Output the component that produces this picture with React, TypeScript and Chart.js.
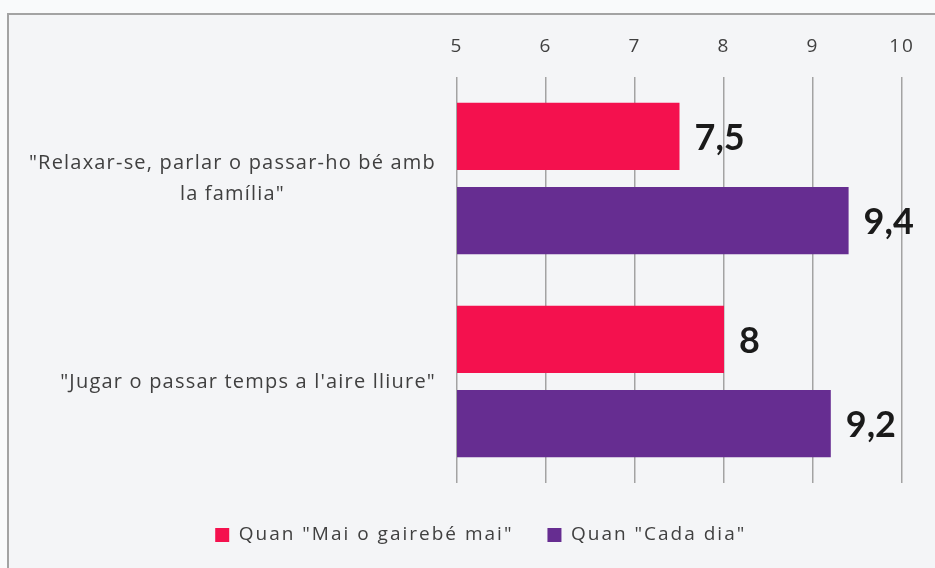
import React, { useEffect, useRef } from 'react';
import { Chart, registerables } from 'chart.js';

Chart.register(...registerables);

// ---- data ----
const categories: string[][] = [
  ['"Relaxar-se, parlar o passar-ho bé amb', 'la família"'],
  ['"Jugar o passar temps a l\'aire lliure"'],
];
const seriesNames: string[] = ['Quan "Mai o gairebé mai"', 'Quan "Cada dia"'];
const neverValues: number[] = [7.5, 8];
const dailyValues: number[] = [9.4, 9.2];
const xTickValues: number[] = [5, 6, 7, 8, 9, 10];

const seriesColors = ['#F4114E', '#662D91'];
const textColor = '#404040';
const FONT = "'Open Sans', 'DejaVu Sans', sans-serif";

const spacingPlugin = {
  id: 'globalSpacing',
  beforeUpdate(chart: any) { try { chart.ctx.letterSpacing = '2px'; } catch (e) {} },
  beforeLayout(chart: any) { try { chart.ctx.letterSpacing = '2px'; } catch (e) {} },
  beforeDraw(chart: any) { try { chart.ctx.letterSpacing = '2px'; } catch (e) {} },
};

const yLabelPlugin = {
  id: 'yLabelsCentered',
  afterDraw(chart: any) {
    const { ctx, chartArea, scales } = chart;
    const y = scales.y;
    ctx.save();
    ctx.font = `20px ${FONT}`;
    try { (ctx as any).letterSpacing = '1.2px'; } catch (e) {}
    ctx.fillStyle = textColor;
    ctx.textAlign = 'center';
    ctx.textBaseline = 'middle';
    const right = chartArea.left - 21;
    const lh = 31.5;
    categories.forEach((lines, i) => {
      const cy = y.getPixelForValue(i) + 0.5;
      const widest = Math.max(...lines.map((l) => ctx.measureText(l).width));
      const cx = right - widest / 2;
      lines.forEach((l, j) => {
        ctx.fillText(l, cx, cy + (j - (lines.length - 1) / 2) * lh);
      });
    });
    ctx.restore();
  },
};

const valueLabelPlugin = {
  id: 'valueLabels',
  afterDatasetsDraw(chart: any) {
    const { ctx } = chart;
    ctx.save();
    try { (ctx as any).letterSpacing = '0px'; } catch (e) {}
    ctx.font = 'bold 36px Lato';
    ctx.fillStyle = '#1a1a1a';
    ctx.textAlign = 'left';
    ctx.textBaseline = 'middle';
    chart.data.datasets.forEach((ds: any, di: number) => {
      const meta = chart.getDatasetMeta(di);
      meta.data.forEach((bar: any, i: number) => {
        const v = ds.data[i];
        ctx.fillText(String(v).replace('.', ','), bar.x + 15, bar.y + 2);
      });
    });
    ctx.restore();
  },
};

export default function App() {
  const ref = useRef<HTMLCanvasElement | null>(null);

  useEffect(() => {
    if (!ref.current) return;
    const chart = new Chart(ref.current, {
      type: 'bar',
      data: {
        labels: categories,
        datasets: [
          {
            label: seriesNames[0],
            data: neverValues,
            backgroundColor: seriesColors[0],
            barPercentage: 0.8,
            categoryPercentage: 0.83,
          },
          {
            label: seriesNames[1],
            data: dailyValues,
            backgroundColor: seriesColors[1],
            barPercentage: 0.8,
            categoryPercentage: 0.83,
          },
        ],
      },
      options: {
        indexAxis: 'y',
        responsive: false,
        animation: false,
        layout: { padding: { left: 59.5, right: 33, top: 0, bottom: 13.5 } },
        scales: {
          x: {
            position: 'top',
            min: xTickValues[0],
            max: xTickValues[xTickValues.length - 1],
            afterFit: (s: any) => { s.height = 77; },
            afterBuildTicks: (s: any) => { s.ticks = xTickValues.map((v) => ({ value: v })); },
            ticks: {
              color: textColor,
              font: { family: FONT, size: 19 },
              padding: 19,
            },
            grid: { color: '#a3a3a3', lineWidth: 1.5, drawTicks: false },
            border: { display: false },
          },
          y: {
            afterFit: (s: any) => { s.width = 397.5; },
            ticks: { display: false },
            grid: { display: false },
            border: { display: false },
          },
        },
        plugins: {
          tooltip: { enabled: false },
          legend: {
            position: 'bottom',
            align: 'center',
            title: { display: true, text: '', font: { size: 8, lineHeight: 1 }, padding: { top: 0, bottom: 0.5 } },
            labels: {
              boxWidth: 14,
              boxHeight: 14,
              padding: 34,
              color: textColor,
              font: { family: FONT, size: 19 },
            },
          },
        },
      },
      plugins: [spacingPlugin, yLabelPlugin, valueLabelPlugin],
    } as any);
    return () => chart.destroy();
  }, []);

  return (
    <div style={{ position: 'absolute', left: 0, top: 0, width: 935, height: 568, overflow: 'hidden', background: '#f9fafb' }}>
      <div
        style={{
          position: 'absolute',
          left: 7,
          top: 13,
          width: 935,
          height: 568,
          borderLeft: '2px solid #a3a3a3',
          borderTop: '2px solid #a3a3a3',
          background: '#f4f5f7',
        }}
      />
      <canvas ref={ref} width={935} height={568} style={{ position: 'absolute', left: 0, top: 0, width: 935, height: 568 }} />
    </div>
  );
}
